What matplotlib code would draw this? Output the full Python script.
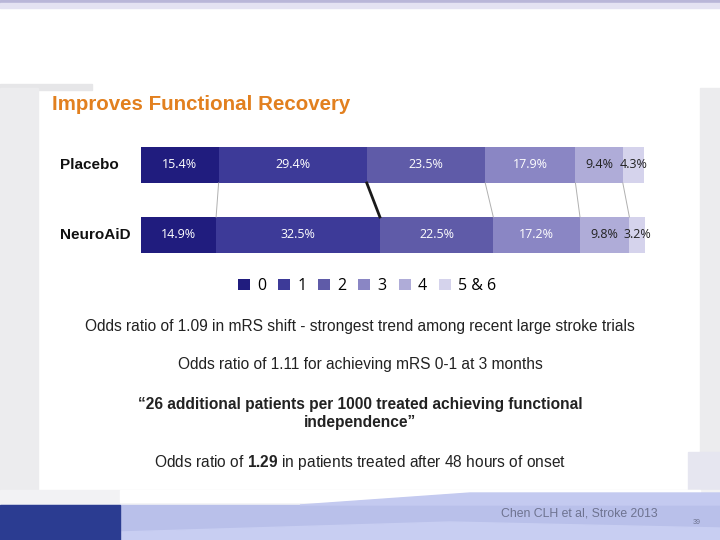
import matplotlib.pyplot as plt
from matplotlib.patches import Rectangle, Polygon
import numpy as np

plt.rcParams['font.family'] = ['Liberation Sans', 'DejaVu Sans']
plt.rcParams['mathtext.fontset'] = 'custom'
plt.rcParams['mathtext.rm'] = 'Liberation Sans'
plt.rcParams['mathtext.bf'] = 'Liberation Sans:bold'

# Dados: distribuicao mRS (%) por grupo
grupos = ['Placebo', 'NeuroAiD']
categorias = ['0', '1', '2', '3', '4', '5 & 6']
placebo = [15.4, 29.4, 23.5, 17.9, 9.4, 4.3]
neuroaid = [14.9, 32.5, 22.5, 17.2, 9.8, 3.2]
cores = ['#201c7e', '#3d3a98', '#5f5ba8', '#8a86c4', '#afacd8', '#d5d3ec']
cor_texto = ['white', 'white', 'white', 'white', '#222222', '#222222']

W, H = 720, 540
fig = plt.figure(figsize=(W / 100, H / 100), dpi=100)
fig.patch.set_facecolor('white')

# Fundo do slide (decoracao)
bg = fig.add_axes([0, 0, 1, 1])
bg.set_xlim(0, W)
bg.set_ylim(H, 0)
bg.axis('off')
bg.add_patch(Rectangle((0, 0), W, 3, color='#b9b6d8'))
bg.add_patch(Rectangle((0, 3), W, 5, color='#e4e2f2'))
bg.add_patch(Rectangle((0, 84), 92, 6, color='#e6e6e8'))
bg.add_patch(Rectangle((0, 88), 38, 410, color='#ececee'))
bg.add_patch(Rectangle((700, 88), 20, 410, color='#ececee'))
bg.add_patch(Rectangle((688, 452), 32, 50, color='#e6e6f0'))
bg.add_patch(Rectangle((0, 490), W, 15, color='#f2f2f4'))
bg.add_patch(Rectangle((120, 490), 580, 12, color='white'))
bg.add_patch(Rectangle((0, 505), W, 35, color='#b9c0ea'))
bg.add_patch(Polygon([(300, 505), (470, 493), (720, 493), (720, 505)],
                     closed=True, color='#c4caf0'))
bg.add_patch(Polygon([(120, 540), (120, 532), (450, 522), (720, 528), (720, 540)],
                     closed=True, color='#c8cef2'))
bg.add_patch(Rectangle((0, 505), 120, 35, color='#2b3c91'))

# Titulo
fig.text(52 / W, 1 - 104 / H, 'Improves Functional Recovery', color='#e2801f',
         fontsize=14.8, fontweight='bold', va='center', ha='left')

# Grafico de barras empilhadas
top, bot = 130, 270
ax = fig.add_axes([141 / W, 1 - bot / H, 504 / W, (bot - top) / H])
ax.set_xlim(0, 100)
ax.set_ylim(1.5, -0.5)
ax.axis('off')

dados = [placebo, neuroaid]
altura = 36 / 70
barras = []
for i, vals in enumerate(dados):
    esq = 0
    for j, v in enumerate(vals):
        b = ax.barh(i, v, left=esq, height=altura, color=cores[j], linewidth=0)
        if i == 0:
            barras.append(b)
        ax.text(esq + v / 2, i, f'{v}%', ha='center', va='center',
                color=cor_texto[j], fontsize=9, family=['Open Sans', 'DejaVu Sans'])
        esq += v

# Linhas de ligacao entre as fronteiras
cum_p = np.cumsum(placebo)[:-1]
cum_n = np.cumsum(neuroaid)[:-1]
for k, (a, b) in enumerate(zip(cum_p, cum_n)):
    if k == 1:
        ax.plot([a, b], [altura / 2, 1 - altura / 2], color='#1a1a1a', lw=2)
    else:
        ax.plot([a, b], [altura / 2, 1 - altura / 2], color='#b0b0b0', lw=0.7)

# Rotulos dos grupos
for i, g in enumerate(grupos):
    fig.text(60 / W, 1 - (165 + 70 * i) / H, g, fontsize=11, fontweight='bold',
             ha='left', va='center', color='#111111')

# Legenda
fig.legend([b[0] for b in barras], categorias, loc='center',
           bbox_to_anchor=(367 / W, 1 - 286 / H), ncol=6, frameon=False,
           handlelength=0.75, handleheight=0.75, handletextpad=0.45,
           columnspacing=0.75, prop={'family': ['Open Sans', 'DejaVu Sans'], 'size': 11.5})

# Textos
cor = '#222222'
fs = 11.2
fig.text(360 / W, 1 - 327 / H,
         'Odds ratio of 1.09 in mRS shift - strongest trend among recent large stroke trials',
         ha='center', va='center', fontsize=fs, color=cor)
fig.text(360 / W, 1 - 365 / H, 'Odds ratio of 1.11 for achieving mRS 0-1 at 3 months',
         ha='center', va='center', fontsize=fs, color=cor)
fig.text(360 / W, 1 - 404 / H,
         '\u201c26 additional patients per 1000 treated achieving functional',
         ha='center', va='center', fontsize=fs, fontweight='bold', color=cor)
fig.text(360 / W, 1 - 423 / H, 'independence\u201d',
         ha='center', va='center', fontsize=fs, fontweight='bold', color=cor)
fig.text(360 / W, 1 - 462 / H,
         r'Odds ratio of $\mathbf{1.29}$ in patients treated after 48 hours of onset',
         ha='center', va='center', fontsize=fs, color=cor)

fig.text(579 / W, 1 - 514 / H, 'Chen CLH et al, Stroke 2013', ha='center', va='center',
         fontsize=8.8, color='#6e7390')
fig.text(697 / W, 1 - 522 / H, '39', ha='center', va='center', fontsize=5, color='#6e7390')

fig.savefig('out.png', dpi=100, facecolor=fig.get_facecolor())
